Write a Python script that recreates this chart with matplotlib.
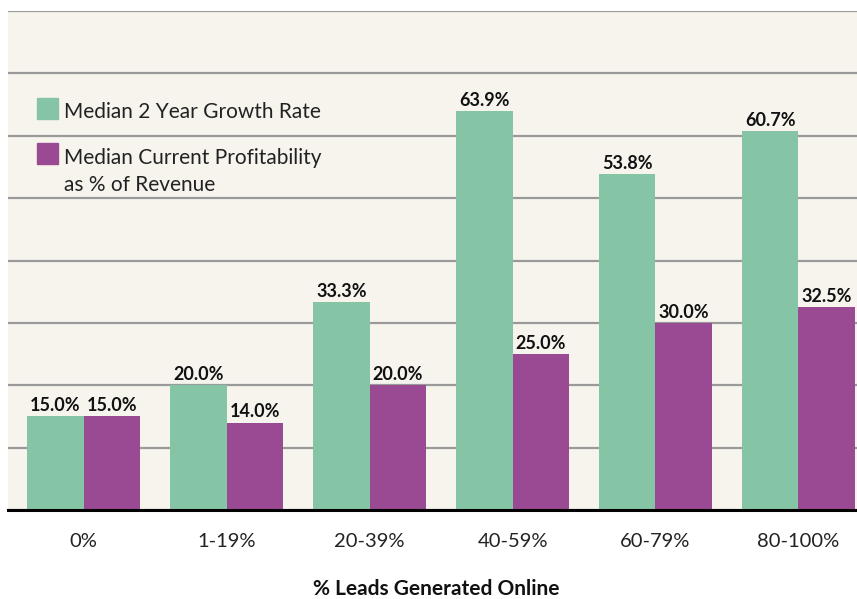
import numpy as np
import matplotlib.pyplot as plt
from matplotlib.patches import Rectangle

categories = ['0%', '1-19%', '20-39%', '40-59%', '60-79%', '80-100%']
growth = [15.0, 20.0, 33.3, 63.9, 53.8, 60.7]
profit = [15.0, 14.0, 20.0, 25.0, 30.0, 32.5]
series_names = ['Median 2 Year Growth Rate', 'Median Current Profitability', 'as % of Revenue']

green = '#85C4A5'
purple = '#9A4A93'
bg = '#F7F4EE'

plt.rcParams['font.family'] = ['Lato', 'DejaVu Sans']

W, H = 857, 599
fig = plt.figure(figsize=(W / 100, H / 100), dpi=100)
ax = fig.add_axes([8 / W, 1 - 510 / H, 1 - 8 / W, (510 - 11) / H])
ax.set_facecolor(bg)

x = np.arange(len(categories))
w = 0.395
b1 = ax.bar(x - w / 2, growth, w, color=green, zorder=3)
b2 = ax.bar(x + w / 2, profit, w, color=purple, zorder=3)

for bars, vals in [(b1, growth), (b2, profit)]:
    for r, v in zip(bars, vals):
        ax.text(r.get_x() + r.get_width() / 2, v + 0.85, f'{v:.1f}%',
                ha='center', va='baseline', fontsize=13, fontweight='bold', color='#111111')

ax.set_ylim(0, 80)
ax.set_xlim(-0.53, 5.41)
ax.set_yticks(np.arange(0, 81, 10))
ax.yaxis.grid(True, color='#9a9a9a', linewidth=1.6, zorder=0)
ax.tick_params(left=False, labelleft=False, bottom=False)
ax.set_xticks(x)
ax.set_xticklabels(categories, fontsize=14.5, color='#222222')
ax.tick_params(axis='x', pad=13)
for s in ['left', 'right', 'top']:
    ax.spines[s].set_visible(False)
ax.spines['bottom'].set_linewidth(2.2)
ax.spines['bottom'].set_color('black')
ax.spines['bottom'].set_zorder(4)

fig.text(436 / W, 4 / H, '% Leads Generated Online', ha='center', va='baseline',
         fontsize=15, fontweight='bold', color='#111111')

# legend drawn by hand so the square lines up with the first text line
for col, yb in [(green, 119), (purple, 164)]:
    fig.add_artist(Rectangle((37 / W, 1 - yb / H), 21 / W, 21 / H,
                             transform=fig.transFigure, color=col))
for name, yb in zip(series_names, [118, 164, 191]):
    fig.text(64 / W, 1 - yb / H, name, ha='left', va='baseline', fontsize=15, color='#222222')

fig.savefig('out.png', dpi=100, facecolor='white')
